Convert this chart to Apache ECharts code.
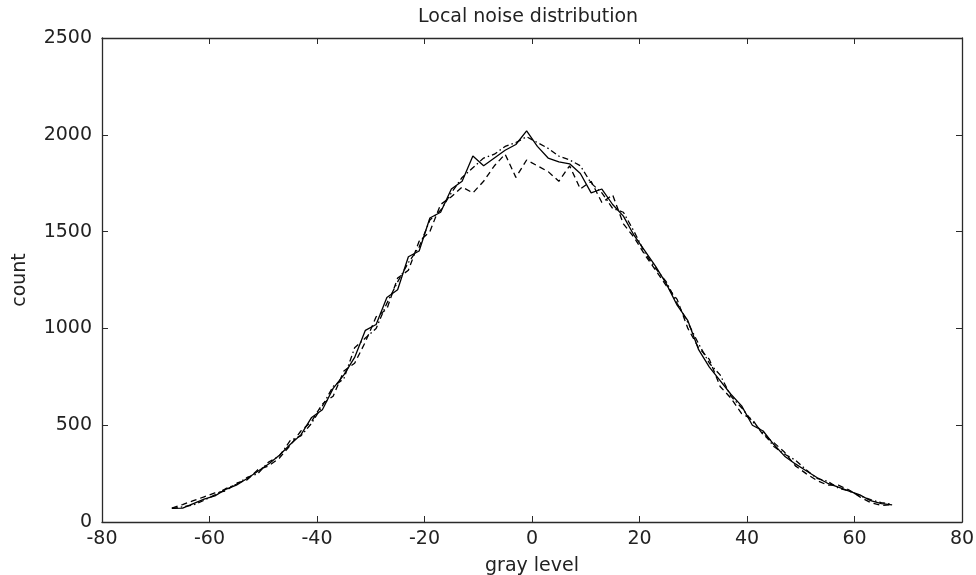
<!DOCTYPE html>
<html>
<head>
<meta charset="utf-8">
<script src="https://cdn.jsdelivr.net/npm/echarts@6/dist/echarts.min.js"></script>
<style>html,body{margin:0;padding:0;background:#fff}#c{width:976px;height:575px}</style>
</head>
<body>
<div id="c"></div>
<script>
var grayLevels = [-67,-65,-63,-61,-59,-57,-55,-53,-51,-49,-47,-45,-43,-41,-39,-37,-35,-33,-31,-29,-27,-25,-23,-21,-19,-17,-15,-13,-11,-9,-7,-5,-3,-1,1,3,5,7,9,11,13,15,17,19,21,23,25,27,29,31,33,35,37,39,41,43,45,47,49,51,53,55,57,59,61,63,65,67];
var solidCounts = [70,72,95,118,135,168,190,225,262,300,345,400,450,540,580,690,760,850,990,1020,1160,1200,1370,1400,1570,1600,1720,1760,1890,1840,1880,1920,1950,2020,1940,1880,1860,1850,1800,1700,1720,1640,1580,1480,1400,1320,1230,1120,1040,890,800,730,660,600,500,470,400,340,300,265,230,200,180,160,140,110,95,88];
var dashedCounts = [72,90,110,130,150,160,200,218,270,290,330,395,470,520,610,650,780,820,930,1060,1100,1260,1300,1450,1500,1640,1680,1730,1700,1760,1840,1900,1780,1870,1840,1810,1760,1840,1720,1760,1650,1690,1540,1470,1380,1300,1220,1150,1000,900,840,700,640,560,530,450,410,360,290,250,215,190,190,165,130,100,85,90];
var dashDotCounts = [70,78,88,112,140,172,195,230,250,310,340,420,445,510,600,700,740,900,950,1000,1130,1240,1340,1420,1560,1610,1700,1780,1830,1880,1900,1940,1960,1990,1960,1930,1890,1870,1840,1750,1700,1620,1600,1500,1390,1310,1240,1130,1030,920,820,760,650,590,520,460,390,350,320,270,225,210,175,160,135,115,100,92];
var xTicks = [-80,-60,-40,-20,0,20,40,60,80];
var yTicks = [0,500,1000,1500,2000,2500];

function pairs(xs, ys){ return xs.map(function(x,i){ return [x, ys[i]]; }); }

var font = 'DejaVu Sans';
var fs = 19;
var axisCol = '#2a2a2a';
var txtCol = '#222';
var chart = echarts.init(document.getElementById('c'), null, {renderer:'canvas'});
var tickStyle = {show:true, inside:true, length:6, lineStyle:{color:axisCol, width:1}};
var plain = function(v){ return String(v); };
chart.setOption({
  animation:false,
  backgroundColor:'#fff',
  title:{text:'Local noise distribution', left:418, top:8, padding:0,
    textStyle:{fontFamily:font, fontSize:fs, fontWeight:'normal', color:txtCol}},
  grid:{left:102, right:14, top:38, bottom:53, containLabel:false, outerBoundsMode:'none'},
  xAxis:[{
    type:'value', min:xTicks[0], max:xTicks[xTicks.length-1], interval:20, position:'bottom',
    name:'gray level', nameLocation:'middle', nameGap:35,
    nameTextStyle:{fontFamily:font, fontSize:fs, color:txtCol},
    axisLine:{show:true, onZero:false, lineStyle:{color:axisCol, width:1.3}},
    axisTick:tickStyle, splitLine:{show:false},
    axisLabel:{fontFamily:font, fontSize:fs, color:txtCol, margin:8, formatter:plain}
  },{
    type:'value', min:xTicks[0], max:xTicks[xTicks.length-1], interval:20, position:'top',
    axisLine:{show:true, onZero:false, lineStyle:{color:axisCol, width:1.3}},
    axisTick:tickStyle, splitLine:{show:false}, axisLabel:{show:false}
  }],
  yAxis:[{
    type:'value', min:yTicks[0], max:yTicks[yTicks.length-1], interval:500, position:'left',
    name:'count', nameLocation:'middle', nameGap:72,
    nameTextStyle:{fontFamily:font, fontSize:fs, color:txtCol},
    axisLine:{show:true, onZero:false, lineStyle:{color:axisCol, width:1.3}},
    axisTick:tickStyle, splitLine:{show:false},
    axisLabel:{fontFamily:font, fontSize:fs, color:txtCol, margin:10, formatter:plain}
  },{
    type:'value', min:yTicks[0], max:yTicks[yTicks.length-1], interval:500, position:'right',
    axisLine:{show:true, onZero:false, lineStyle:{color:axisCol, width:1.3}},
    axisTick:tickStyle, splitLine:{show:false}, axisLabel:{show:false}
  }],
  series:[
    {type:'line', name:'solid', data:pairs(grayLevels, solidCounts), showSymbol:false, symbol:'none',
     lineStyle:{color:'#000', width:1.3, type:'solid'}},
    {type:'line', name:'dashed', data:pairs(grayLevels, dashedCounts), showSymbol:false, symbol:'none',
     lineStyle:{color:'#000', width:1.3, type:[6,4]}},
    {type:'line', name:'dashdot', data:pairs(grayLevels, dashDotCounts), showSymbol:false, symbol:'none',
     lineStyle:{color:'#000', width:1.3, type:[6,3,1.5,3]}}
  ]
});
</script>
</body>
</html>
